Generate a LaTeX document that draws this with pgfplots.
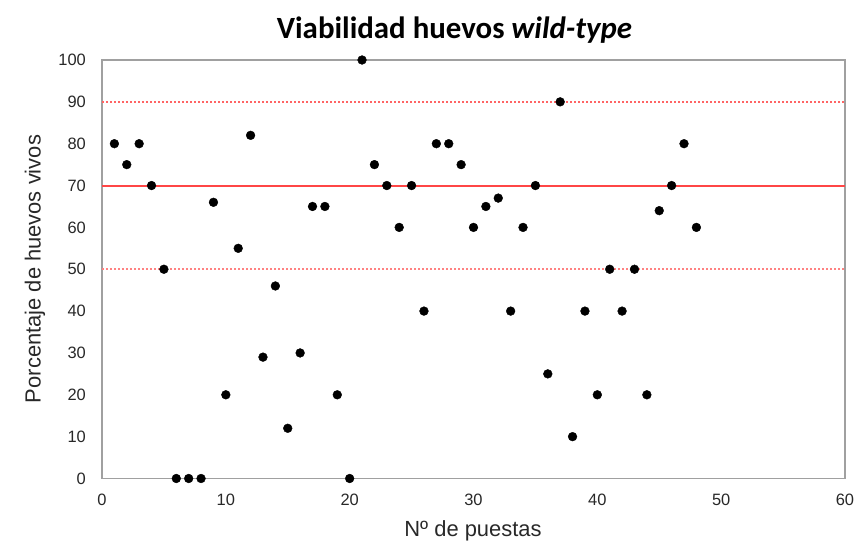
\documentclass[border=0pt]{standalone}
\usepackage{pgfplots}
\pgfplotsset{compat=1.18}
\usepackage{fontspec}
\setmainfont{Liberation Sans}
\newfontfamily\titlefont{Carlito}
\begin{document}
\begin{tikzpicture}
\useasboundingbox (-102bp,-66.5bp) rectangle (757bp,478.5bp);
\begin{axis}[
  scale only axis,
  width=743bp, height=418.5bp,
  anchor=south west, at={(0,0)},
  xmin=0, xmax=60, ymin=0, ymax=100,
  xtick={0,10,...,60}, ytick={0,10,...,100},
  major tick length=0pt,
  axis line style={draw={rgb,255:red,160;green,160;blue,160}, line width=1.3bp},
  tick label style={font=\fontsize{16.5}{19}\selectfont, text={rgb,255:red,40;green,40;blue,40}, inner sep=0pt},
  /pgf/number format/assume math mode=true,
  xticklabel style={anchor=north, yshift=-15bp},
  yticklabel style={anchor=east, xshift=-16bp},
  clip=false,
]
\addplot[color={rgb,255:red,255;green,70;blue,70}, line width=2bp, forget plot] coordinates {(0,70) (60,70)};
\addplot[color={rgb,255:red,255;green,100;blue,100}, line width=1.5bp, dash pattern=on 2bp off 2bp, forget plot] coordinates {(0,90) (60,90)};
\addplot[color={rgb,255:red,255;green,130;blue,130}, line width=1.5bp, dash pattern=on 2bp off 2bp, forget plot] coordinates {(0,50) (60,50)};
\addplot[only marks, mark=*, mark size=4.4bp, draw=black, fill=black] coordinates {
(1,80) (2,75) (3,80) (4,70) (5,50) (6,0) (7,0) (8,0) (9,66) (10,20)
(11,55) (12,82) (13,29) (14,46) (15,12) (16,30) (17,65) (18,65) (19,20) (20,0)
(21,100) (22,75) (23,70) (24,60) (25,70) (26,40) (27,80) (28,80) (29,75) (30,60)
(31,65) (32,67) (33,40) (34,60) (35,70) (36,25) (37,90) (38,10) (39,40) (40,20)
(41,50) (42,40) (43,50) (44,20) (45,64) (46,70) (47,80) (48,60)
};
\end{axis}
\node[font=\titlefont\bfseries\fontsize{31}{36}\selectfont] at (352.5bp,448.5bp) {Viabilidad huevos \textit{wild-type}};
\node[font=\fontsize{22}{26}\selectfont, text={rgb,255:red,40;green,40;blue,40}] at (371bp,-52.5bp) {Nº de puestas};
\node[font=\fontsize{22}{26}\selectfont, text={rgb,255:red,40;green,40;blue,40}, rotate=90] at (-67bp,209.5bp) {Porcentaje de huevos vivos};
\end{tikzpicture}
\end{document}
